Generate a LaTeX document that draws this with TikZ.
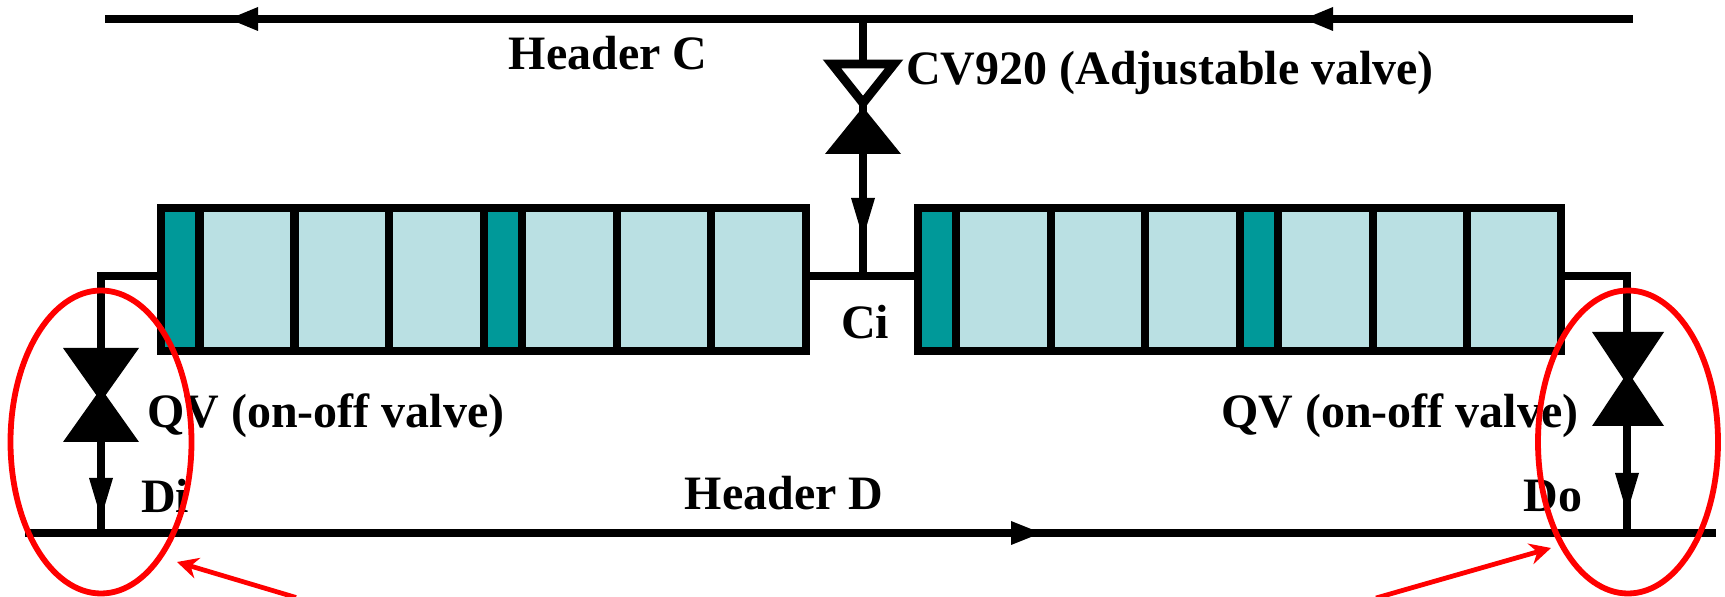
\documentclass[tikz,border=0pt]{standalone}
\usepackage{fontspec}
\usetikzlibrary{arrows.meta}
\setmainfont{Liberation Serif}

\definecolor{celllight}{RGB}{186,224,227}
\definecolor{celldark}{RGB}{0,153,153}

\tikzset{
  pipe/.style={line width=5.1pt},
  lbl/.style={font=\bfseries\fontsize{27.3}{30}\selectfont, inner sep=0pt},
  mark red/.style={red, line width=3.3pt},
  pointer/.style={red, line width=2.7pt, -{Stealth[length=12pt,width=12pt]}},
  flow/.style={fill=black, draw=none},
}

\begin{document}
\begin{tikzpicture}[x=.02cm, y=-.02cm, >=stealth, line join=miter]

\useasboundingbox[clip] (0,0) rectangle (1725,597);

% --- layout helpers ---
\def\Ytop{208}   % cell top
\def\Ybot{351}   % cell bottom
\def\Ylink{276}  % link line
\def\Yc{19}      % header C
\def\Yd{533}     % header D

% --- valve: x, y of waist, half width, half height, fill of upper half ---
\newcommand{\valve}[5]{%
  \fill (#1-#3,#2+#4) -- (#1,#2) -- (#1+#3,#2+#4) -- cycle;
  \filldraw[fill=#5, draw=black, pipe]
    (#1-#3+7,#2-#4+4) -- (#1,#2-4) -- (#1+#3-7,#2-#4+4) -- cycle;
}
% --- same, all solid ---
\newcommand{\solidvalve}[4]{%
  \fill (#1-#3,#2-#4) -- (#1+#3,#2-#4) -- (#1+4.7,#2) -- (#1+#3,#2+#4)
     -- (#1-#3,#2+#4) -- (#1-4.7,#2) -- cycle;
}
% --- arrow on a pipe ---
\newcommand{\downtip}[2]{\fill[flow] (#1-12,#2) -- (#1+12,#2) -- (#1,#2+40) -- cycle;}
\newcommand{\sidetip}[3]{\fill[flow] (#1,#2-12) -- (#1,#2+12) -- (#1+#3,#2) -- cycle;}

% --- cell banks ---
\foreach \a/\b/\c in {161/199.5/celldark, 199.5/294.7/celllight, 294.7/389/celllight,
                      389/484/celllight, 484/522/celldark, 522/617/celllight,
                      617/711/celllight, 711/806/celllight,
                      918/956/celldark, 956/1051/celllight, 1051/1145/celllight,
                      1145/1240/celllight, 1240/1278/celldark, 1278/1373/celllight,
                      1373/1467/celllight, 1467/1561/celllight}
  \filldraw[fill=\c, draw=black, pipe] (\a,\Ytop) rectangle (\b,\Ybot);

% --- pipe ends ---
\coordinate (cl) at (105,\Yc);
\coordinate (cr) at (1633,\Yc);
\coordinate (dl) at (25,\Yd);
\coordinate (dr) at (1716,\Yd);
\coordinate (cj) at (863,\Yc);
\coordinate (dij) at (101,\Yd);
\coordinate (doj) at (1627,\Yd);
\coordinate (bankLo) at (161,\Ylink);
\coordinate (bankLi) at (806,\Ylink);
\coordinate (bankRi) at (918,\Ylink);
\coordinate (bankRo) at (1561,\Ylink);
\coordinate (ci) at (863,\Ylink);
\coordinate (di) at (101,\Ylink);
\coordinate (do) at (1627,\Ylink);

% --- pipes ---
\draw[pipe] (cl) -- (cr);
\draw[pipe] (dl) -- (dr);
\draw[pipe] (cj) -- (ci);
\draw[pipe] (bankLi) -- (bankRi);
\draw[pipe] (bankLo) -- (di) -- (dij);
\draw[pipe] (bankRo) -- (do) -- (doj);

% --- valves ---
\valve{863}{107}{38}{47}{white}
\solidvalve{101}{395}{38}{47}
\solidvalve{1628}{379}{36}{47}

% --- flow arrows ---
\downtip{863}{198}
\downtip{101}{478}
\downtip{1627}{473}
\sidetip{258}{\Yc}{-29}
\sidetip{1333}{\Yc}{-29}
\sidetip{1011}{\Yd}{30}

% --- labels ---
\node[lbl] (headerc) at (608,53) {Header C};
\node[lbl, anchor=west] (cv) at (906,73) {CV920 (Adjustable valve)};
\node[lbl] (cilbl) at (865,322) {Ci};
\node[lbl, anchor=west] (qvl) at (147,416) {QV (on-off valve)};
\node[lbl, anchor=west] (qvr) at (1221,416) {QV (on-off valve)};
\node[lbl] (dilbl) at (165,496) {Di};
\node[lbl] (dolbl) at (1553,496) {Do};
\node[lbl] (headerd) at (784,493) {Header D};

% --- red marks ---
\draw[mark red] (101,442) ellipse [x radius=90.5, y radius=151.5];
\draw[mark red] (1628,442) ellipse [x radius=90, y radius=151.5];
\coordinate (tipl) at (177,562);
\coordinate (taill) at (296,597.5);
\coordinate (tipr) at (1551,548);
\coordinate (tailr) at (1376,598);
\draw[pointer] (taill) -- (tipl);
\draw[pointer] (tailr) -- (tipr);

\end{tikzpicture}
\end{document}
